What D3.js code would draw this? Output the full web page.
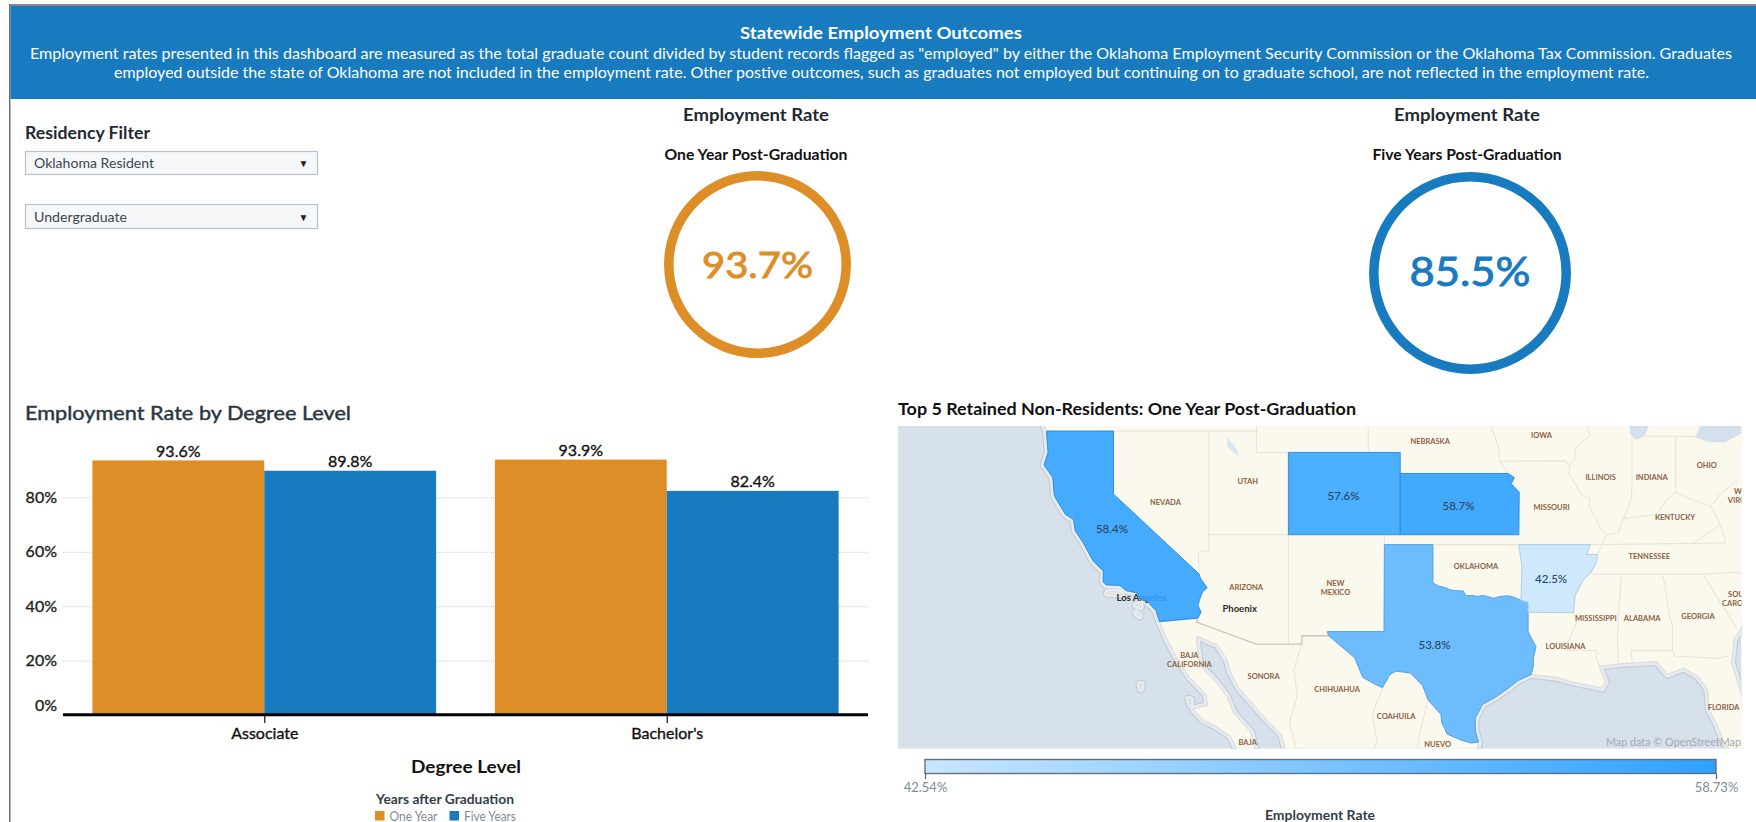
<!DOCTYPE html>
<html>
<head>
<meta charset="utf-8">
<script src="https://cdn.jsdelivr.net/npm/d3@7"></script>
<style>
html,body{margin:0;padding:0;background:#fff;overflow:hidden}
svg{display:block}
text{font-family:Lato,"Open Sans",sans-serif}
</style>
</head>
<body>
<svg id="chart" width="1756" height="822"></svg>
<script>
// ---------- chart values ----------
const headerTitle = "Statewide Employment Outcomes";
const headerLines = [
  'Employment rates presented in this dashboard are measured as the total graduate count divided by student records flagged as "employed" by either the Oklahoma Employment Security Commission or the Oklahoma Tax Commission. Graduates',
  'employed outside the state of Oklahoma are not included in the employment rate. Other postive outcomes, such as graduates not employed but continuing on to graduate school, are not reflected in the employment rate.'
];
const dropdownValues = ["Oklahoma Resident", "Undergraduate"];
const degreeLevels = ["Associate", "Bachelor's"];
const yearSeries = ["One Year", "Five Years"];
const oneYearRates = [93.6, 93.9];
const fiveYearRates = [89.8, 82.4];
const yTicks = [0, 20, 40, 60, 80];
const kpiOneYear = 93.7;
const kpiFiveYears = 85.5;
const legendRange = [42.54, 58.73];

// ---------- retained-state rates and geography (lon, lat) ----------
const stateRates = [58.4, 57.6, 58.7, 53.8, 42.5];
const stateLabelAt = [[-120.1,37.3],[-105.6,38.95],[-98.4,38.45],[-99.9,31.3],[-92.6,34.8]];
const california = [[-124.2,42],[-120,42],[-120,39],[-114.63,35],[-114.57,34.8],[-114.14,34.3],[-114.43,34.08],[-114.52,33.9],[-114.72,33.4],[-114.52,33.03],[-114.72,32.72],[-117.12,32.53],[-117.25,32.85],[-117.33,33.1],[-117.9,33.6],[-118.4,33.74],[-118.5,34.03],[-119.2,34.15],[-119.6,34.42],[-120.47,34.45],[-120.65,34.6],[-120.63,35.15],[-121.3,35.7],[-121.9,36.6],[-122.4,37.2],[-122.5,37.75],[-123,38],[-123.7,38.9],[-123.8,39.8],[-124.35,40.4],[-124.1,41],[-124.2,42]];
const colorado = [[-109.05,41],[-102.05,41],[-102.05,37],[-109.05,37]];
const kansas = [[-102.05,40],[-95.3,40],[-94.9,39.8],[-95.1,39.5],[-94.6,39.1],[-94.62,37],[-102.05,37]];
const texas = [[-103.04,36.5],[-100,36.5],[-100,34.56],[-99.7,34.4],[-99.2,34.3],[-98.95,34.2],[-98.6,34.15],[-98.1,34.13],[-97.95,33.88],[-97.6,33.9],[-97.2,33.85],[-96.9,33.9],[-96.6,33.85],[-96.2,33.75],[-95.8,33.85],[-95.3,33.88],[-94.9,33.8],[-94.48,33.64],[-94.04,33.55],[-94.04,33.02],[-94.04,31.99],[-93.8,31.6],[-93.55,31.2],[-93.7,30.6],[-93.72,30.1],[-93.85,29.7],[-94.7,29.35],[-95.2,29],[-96,28.5],[-96.9,28.05],[-97.35,27.3],[-97.35,26.6],[-97.15,25.96],[-97.6,25.9],[-98.2,26.05],[-99.1,26.4],[-99.45,27.05],[-99.5,27.5],[-100.3,28.3],[-100.65,29.1],[-101.4,29.77],[-102.3,29.88],[-102.7,29.7],[-103.15,28.98],[-103.6,29.15],[-104.4,29.55],[-104.9,30.6],[-106.53,31.78],[-106.62,32],[-103.06,32]];
const arkansas = [[-94.62,36.5],[-90.15,36.5],[-90.37,36],[-89.7,36],[-89.75,35.6],[-90.1,35.1],[-90.6,34.7],[-91.1,33.9],[-91.2,33],[-94.04,33.02],[-94.04,33.55],[-94.48,33.64],[-94.43,35.4]];
const landRing = [[-124.6,43],[-124.4,42.4],[-124.2,42],[-124.1,41],[-124.35,40.4],[-123.8,39.8],[-123.7,38.9],[-123,38],[-122.5,37.75],[-122.4,37.2],[-121.9,36.6],[-121.3,35.7],[-120.63,35.15],[-120.65,34.6],[-120.47,34.45],[-119.6,34.42],[-119.2,34.15],[-118.5,34.03],[-118.4,33.74],[-117.9,33.6],[-117.33,33.1],[-117.25,32.85],[-117.12,32.53],[-116.6,31.5],[-115.9,30.4],[-115.2,29.5],[-114.2,28.6],[-114.1,28],[-115,27.8],[-114.4,27.2],[-113.5,26.8],[-112.7,26.3],[-112.2,25.4],[-111.1,25.4],[-111.4,26.5],[-112.5,27.6],[-112.9,28.5],[-113.6,29.3],[-114.6,30.2],[-114.8,31.5],[-114.75,31.75],[-113.5,31.3],[-112.9,30.5],[-112.7,29.9],[-112.2,29],[-111.2,28],[-110.5,27.3],[-109.5,26.4],[-109.2,25.4],[-97.25,25.4],[-97.15,25.96],[-97.35,26.6],[-97.35,27.3],[-96.9,28.05],[-96,28.5],[-95.2,29],[-94.7,29.35],[-93.85,29.7],[-92.3,29.55],[-91.3,29.3],[-90.2,29.1],[-89.4,28.95],[-89.2,29.3],[-89.6,30.15],[-88,30.3],[-87,30.35],[-86,30.4],[-85.3,29.7],[-84.3,30.05],[-83.4,29.6],[-82.8,28.9],[-82.7,27.8],[-82.2,26.9],[-81.8,26],[-81.2,25.2],[-80.3,25.2],[-80,26.8],[-80.6,28.4],[-81.3,30.3],[-81.15,31.6],[-80.6,32.3],[-80,32.7],[-79,33],[-79,43]];
const islandRings = [
  [[-120.4,34],[-119.5,33.95],[-119.6,34.07],[-120.3,34.08]],
  [[-118.6,33.4],[-118.3,33.3],[-118.35,33.45]],
  [[-118.6,33],[-118.35,32.82],[-118.4,32.85]],
  [[-118.35,29.15],[-118.25,29.15],[-118.3,28.9]],
  [[-115.3,28.35],[-115.15,28.3],[-115.2,28.05]]
];
const greatLakeRings = [
  [[-87.8,43],[-87.6,41.85],[-87.3,41.62],[-86.8,41.75],[-86.4,42.4],[-86.2,43]],
  [[-83.55,41.72],[-82.7,41.5],[-81.7,41.5],[-80.5,42],[-79,42.7],[-83.2,42.7],[-83.3,42.1]],
  [[-122.45,38.1],[-122.1,38.05],[-122.2,37.6],[-122.4,37.85]]
];
const smallLakeRings = [
  [[-112.9,41.7],[-112.4,41.3],[-112.1,40.8],[-112.5,41],[-112.9,41.3]]
];
const stateBorderLines = [
  [[-124.2,42],[-111.05,42]],
  [[-111.05,43],[-111.05,41],[-109.05,41],[-102.05,41]],
  [[-114.04,42],[-114.04,36.2],[-114.7,36.1],[-114.63,35]],
  [[-114.04,37],[-94.62,37]],
  [[-109.05,41],[-109.05,31.33]],
  [[-103.04,37],[-103.04,36.5]],
  [[-104.05,43],[-104.05,41]],
  [[-102.05,41],[-102.05,40],[-95.3,40]],
  [[-96.5,42.5],[-96.1,41.7],[-95.9,41.2],[-95.8,40.6],[-95.3,40]],
  [[-95.77,40.58],[-91.73,40.6],[-91.42,40.38]],
  [[-90.65,43],[-90.15,41.8],[-91.1,41.2],[-91.1,40.7],[-91.42,40.38],[-91.5,40],[-90.7,39],[-90.15,38.8],[-90.2,38.4],[-89.5,37.3],[-89.15,37],[-89.4,36.5],[-89.7,36],[-90.1,35.1],[-90.6,34.7],[-91.1,33.9],[-91.2,33],[-91,32.5],[-91.5,31.5],[-91.6,31],[-89.73,31],[-89.8,30.6],[-89.55,30.2]],
  [[-90.1,35],[-83.1,35]],
  [[-94.62,36.5],[-100,36.5]],
  [[-90.15,36.5],[-89.4,36.5],[-81.68,36.59]],
  [[-88.2,35],[-88.45,31.9],[-88.4,30.3]],
  [[-85.6,35],[-85.2,32.9],[-85,32.3],[-85,31],[-84.86,30.7],[-82.2,30.57],[-81.5,30.7]],
  [[-87.6,31],[-85,31]],
  [[-87.6,31],[-87.5,30.3]],
  [[-87.53,41.7],[-87.53,39.3],[-87.6,38.7],[-88.05,37.8]],
  [[-89.15,37],[-88.4,37.1],[-88.05,37.8],[-87,37.9],[-86,38],[-85.4,38.7],[-84.8,39.1],[-84,38.8],[-82.6,38.4],[-82,39],[-80.9,39.7]],
  [[-84.8,39.1],[-84.8,41.7]],
  [[-87,41.76],[-84.8,41.76],[-83.5,41.73]],
  [[-82.6,38.4],[-82,37.5],[-83.68,36.6]],
  [[-82,37.5],[-81.68,36.59]],
  [[-83.1,35],[-81,32.2]],
  [[-83.1,35],[-81,35.1],[-79.7,34.8]],
  [[-108.2,31.33],[-108.7,30],[-108.5,28.5],[-109,27],[-108.5,25.4]],
  [[-103.15,28.98],[-103.8,27.5],[-103.5,26],[-103.8,25.4]],
  [[-100.3,28.3],[-100.8,26.5],[-101,25.4]]
];
const nationalBorderLines = [
  [[-117.12,32.53],[-114.72,32.72],[-114.8,32.5],[-111.07,31.33],[-108.2,31.33],[-108.2,31.78],[-106.53,31.78]]
];
const placeLabels = [
  ["IOWA",-93.2,41.8],["NEBRASKA",-100.17,41.5],["OHIO",-82.85,40.4],["ILLINOIS",-89.5,39.8],["INDIANA",-86.3,39.8],
  ["UTAH",-111.6,39.6],["NEVADA",-116.75,38.6],["MISSOURI",-92.57,38.35],["KENTUCKY",-84.84,37.85],["TENNESSEE",-86.45,35.9],
  ["OKLAHOMA",-97.3,35.4],["ARIZONA",-111.7,34.3],["NEW|MEXICO",-106.1,34.3],["MISSISSIPPI",-89.8,32.7],["ALABAMA",-86.9,32.7],
  ["GEORGIA",-83.4,32.8],["LOUISIANA",-91.7,31.2],["BAJA|CALIFORNIA",-115.25,30.5],["SONORA",-110.6,29.6],["CHIHUAHUA",-106,28.9],
  ["COAHUILA",-102.3,27.4],["FLORIDA",-81.8,27.9],["BAJA",-111.6,25.95],["NUEVO",-99.7,25.8],["SOUTH|CAROLINA",-80.7,33.7],["WEST|VIRGINIA",-80.5,38.9]
];
const cityLabels = [["Los Angeles",-118.25,33.8],["Phoenix",-112.1,33.2]];

// ---------- drawing ----------
const ORANGE = "#dd8e26", BLUE = "#187abf", INK = "#1f2933", MUTED = "#7f8b99";
const svg = d3.select("#chart");
const defs = svg.append("defs");

function label(parent, str, x, y, size, opts = {}) {
  const t = parent.append("text").attr("x", x).attr("y", y)
    .attr("dominant-baseline", "central")
    .attr("text-anchor", opts.anchor || "middle")
    .attr("font-size", size)
    .attr("font-weight", opts.weight || 400)
    .attr("fill", opts.fill || INK)
    .text(str);
  if (opts.width) t.attr("textLength", opts.width).attr("lengthAdjust", "spacingAndGlyphs");
  if (opts.thicken) t.attr("stroke", opts.fill || INK).attr("stroke-width", opts.thicken);
  return t;
}

// frame
svg.append("rect").attr("x", 9).attr("y", 4).attr("width", 1747).attr("height", 2).attr("fill", "#8a8a8a");
svg.append("rect").attr("x", 9).attr("y", 4).attr("width", 1.5).attr("height", 818).attr("fill", "#6f6f6f");

// header banner
svg.append("rect").attr("x", 10.5).attr("y", 6).attr("width", 1745.5).attr("height", 93).attr("fill", BLUE);
label(svg, headerTitle, 881, 32, 17, { weight: 700, fill: "#fff", width: 282 });
label(svg, headerLines[0], 881, 53, 15, { fill: "#fff", width: 1702 });
label(svg, headerLines[1], 881.5, 72, 15, { fill: "#fff", width: 1535 });

// filters
label(svg, "Residency Filter", 25, 133, 16.5, { anchor: "start", weight: 700, width: 125 });
[[151, 174], [204, 228]].forEach((yy, i) => {
  svg.append("rect").attr("x", 25.5).attr("y", yy[0] + .5).attr("width", 292).attr("height", yy[1] - yy[0])
    .attr("fill", "#f6f7f9").attr("stroke", "#b9c0cb").attr("stroke-width", 1.2);
  label(svg, dropdownValues[i], 34, (yy[0] + yy[1]) / 2 + .5, 13.5, { anchor: "start", fill: "#3c4650", width: i ? 93 : 120 });
  label(svg, "\u25BC", 303.5, (yy[0] + yy[1]) / 2 + .5, 10, { fill: "#222" });
});

// KPI rings
const pct1 = d3.format(".1f");
function kpi(cx, cTitle, cy, r, value, sub, color, fs, w, ty, subW) {
  label(svg, "Employment Rate", cTitle, 115, 16.5, { weight: 700, width: 146 });
  label(svg, sub, cTitle, 154, 14.5, { weight: 700, fill: "#111", width: subW });
  svg.append("circle").attr("cx", cx).attr("cy", cy).attr("r", r).attr("fill", "none").attr("stroke", color).attr("stroke-width", 9.5);
  label(svg, pct1(value) + "%", cx, ty, fs, { fill: color, width: w, thicken: .9 });
}
kpi(757.5, 756, 264.5, 88.7, kpiOneYear, "One Year Post-Graduation", ORANGE, 37, 111, 263, 183);
kpi(1470, 1467, 273, 96.2, kpiFiveYears, "Five Years Post-Graduation", BLUE, 40, 121, 271, 189);

// ---------- bar chart ----------
const x0 = d3.scaleBand().domain(degreeLevels).range([63, 868]).paddingInner(0.146).paddingOuter(0.073);
const x1 = d3.scaleBand().domain(yearSeries).range([0, x0.bandwidth()]);
const y = d3.scaleLinear().domain([0, 100]).range([715, 443]);
const seriesValues = { "One Year": oneYearRates, "Five Years": fiveYearRates };
const seriesColor = d3.scaleOrdinal().domain(yearSeries).range([ORANGE, BLUE]);

label(svg, "Employment Rate by Degree Level", 25, 412, 20, { anchor: "start", weight: 400, fill: "#2b3640", width: 326, thicken: .45 });

svg.append("g").selectAll("line").data(yTicks.filter(d => d > 0)).join("line")
  .attr("x1", 63).attr("x2", 868).attr("y1", d => y(d) + .5).attr("y2", d => y(d) + .5)
  .attr("stroke", "#c9c9c9").attr("stroke-width", 1).attr("stroke-dasharray", "1 1");

const groups = svg.append("g").selectAll("g").data(degreeLevels).join("g")
  .attr("transform", d => `translate(${x0(d)},0)`);
yearSeries.forEach(s => {
  groups.append("rect")
    .attr("x", x1(s)).attr("width", x1.bandwidth())
    .attr("y", (d, i) => y(seriesValues[s][i]))
    .attr("height", (d, i) => y(0) - y(seriesValues[s][i]))
    .attr("fill", seriesColor(s));
  groups.append("text")
    .attr("x", x1(s) + x1.bandwidth() / 2)
    .attr("y", (d, i) => y(seriesValues[s][i]) - 10)
    .attr("text-anchor", "middle").attr("dominant-baseline", "central")
    .attr("font-size", 16).attr("font-weight", 400).attr("fill", "#111")
    .attr("stroke", "#111").attr("stroke-width", .35)
    .text((d, i) => pct1(seriesValues[s][i]) + "%");
});

const yAxis = svg.append("g").attr("transform", "translate(63,0)")
  .call(d3.axisLeft(y).tickValues(yTicks).tickSize(0).tickPadding(6).tickFormat(d => d + "%"));
yAxis.select(".domain").remove();
yAxis.selectAll("text").attr("font-size", 16).attr("fill", "#222").attr("stroke", "#222").attr("stroke-width", .35).style("font-family", "Lato");
yAxis.selectAll(".tick").filter(d => d === 0).select("text").attr("dy", "-0.3em");

const xAxis = svg.append("g").attr("transform", "translate(0,715)")
  .call(d3.axisBottom(d3.scalePoint().domain(degreeLevels).range([x0("Associate") + x0.bandwidth() / 2, x0("Bachelor's") + x0.bandwidth() / 2]))
    .tickSize(8).tickPadding(5));
xAxis.select(".domain").remove();
xAxis.selectAll("line").attr("stroke", "#111").attr("stroke-width", 1.2);
xAxis.selectAll("text").attr("font-size", 16).attr("fill", "#111").attr("stroke", "#111").attr("stroke-width", .35).style("font-family", "Lato");
svg.append("line").attr("x1", 63).attr("x2", 868).attr("y1", 714.7).attr("y2", 714.7).attr("stroke", "#000").attr("stroke-width", 3);

label(svg, "Degree Level", 466, 767, 16.5, { weight: 700, fill: "#111", width: 110 });
label(svg, "Years after Graduation", 445, 799, 13, { weight: 700, fill: "#333d47", width: 138 });
const legendX = [375, 449.5];
yearSeries.forEach((s, i) => {
  svg.append("rect").attr("x", legendX[i]).attr("y", 811).attr("width", 9.5).attr("height", 9.5).attr("fill", seriesColor(s));
  label(svg, s, legendX[i] + 14.5, 815.5, 13, { anchor: "start", fill: MUTED, width: i ? 52 : 48 });
});

// ---------- map ----------
label(svg, "Top 5 Retained Non-Residents: One Year Post-Graduation", 898, 408, 17, { anchor: "start", weight: 700, fill: "#111", width: 458 });

const mapBox = { x: 898, y: 426, w: 843.5, h: 322.7 };
defs.append("clipPath").attr("id", "mapclip").append("rect")
  .attr("x", mapBox.x).attr("y", mapBox.y).attr("width", mapBox.w).attr("height", mapBox.h);
const projection = d3.geoMercator().scale(915).translate([3029.9, 1171.5]).precision(0);
const ringPath = ring => d3.line()(ring.map(p => projection(p))) + "Z";
const linePath = pts => d3.line()(pts.map(p => projection(p)));
const color = d3.scaleLinear().domain(legendRange).range(["#c9e6ff", "#2ea1ff"]);

const map = svg.append("g").attr("clip-path", "url(#mapclip)");
map.append("rect").attr("x", mapBox.x).attr("y", mapBox.y).attr("width", mapBox.w).attr("height", mapBox.h).attr("fill", "#d7e1ec");
const coastRings = [landRing, ...islandRings];
map.selectAll(".halo").data(coastRings).join("path").attr("d", ringPath)
  .attr("fill", "none").attr("stroke", "#c5ced8").attr("stroke-width", 9).attr("stroke-linejoin", "round");
map.selectAll(".halo2").data(coastRings).join("path").attr("d", ringPath)
  .attr("fill", "none").attr("stroke", "#e6ebef").attr("stroke-width", 6.5).attr("stroke-linejoin", "round");
map.selectAll(".land").data(coastRings).join("path").attr("d", ringPath)
  .attr("fill", "#fbf9ee").attr("stroke", "#d2d4d2").attr("stroke-width", .8);
map.selectAll(".lake").data(greatLakeRings).join("path").attr("d", ringPath)
  .attr("fill", "#d3e1ee").attr("stroke", "#c9d6e2").attr("stroke-width", .6);
map.selectAll(".smalllake").data(smallLakeRings).join("path").attr("d", ringPath).attr("fill", "#dbe6ef");
map.selectAll(".sb").data(stateBorderLines).join("path").attr("d", linePath)
  .attr("fill", "none").attr("stroke", "#e9e6d9").attr("stroke-width", 1.1);
map.selectAll(".nb").data(nationalBorderLines).join("path").attr("d", linePath)
  .attr("fill", "none").attr("stroke", "#c9c7bd").attr("stroke-width", 1.3);

placeLabels.forEach(([name, lon, lat]) => {
  const [px, py] = projection([lon, lat]);
  const parts = name.split("|");
  parts.forEach((part, i) => {
    map.append("text").attr("x", px).attr("y", py + (i - (parts.length - 1) / 2) * 9)
      .attr("text-anchor", "middle").attr("dominant-baseline", "central")
      .attr("font-size", 7.5).attr("font-weight", 700).attr("fill", "#8c5f44").text(part);
  });
});
cityLabels.forEach(([name, lon, lat]) => {
  const [px, py] = projection([lon, lat]);
  map.append("text").attr("x", px).attr("y", py).attr("text-anchor", "middle").attr("dominant-baseline", "central")
    .attr("font-size", 9.5).attr("font-weight", 700).attr("fill", "#2b2b2b").text(name);
});

const stateRings = [california, colorado, kansas, texas, arkansas];
map.selectAll(".state").data(stateRings).join("path").attr("d", ringPath)
  .attr("fill", (d, i) => color(stateRates[i])).attr("fill-opacity", .9)
  .attr("stroke", (d, i) => d3.color(color(stateRates[i])).darker(.35)).attr("stroke-width", 1);
stateRates.forEach((v, i) => {
  const [px, py] = projection(stateLabelAt[i]);
  map.append("text").attr("x", px).attr("y", py).attr("text-anchor", "middle").attr("dominant-baseline", "central")
    .attr("font-size", 11.5).attr("font-weight", 500).attr("fill", "#27465f").text(pct1(v) + "%");
});
map.append("text").attr("x", 1741).attr("y", 741.7).attr("text-anchor", "end").attr("dominant-baseline", "central")
  .attr("font-size", 11).attr("fill", "#a3a8ad").attr("textLength", 135).attr("lengthAdjust", "spacingAndGlyphs").text("Map data \u00A9 OpenStreetMap");

// color legend
const lg = defs.append("linearGradient").attr("id", "ramp");
lg.append("stop").attr("offset", "0%").attr("stop-color", color(legendRange[0]));
lg.append("stop").attr("offset", "100%").attr("stop-color", color(legendRange[1]));
const legendScale = d3.scaleLinear().domain(legendRange).range([925, 1716]);
svg.append("rect").attr("x", 925).attr("y", 759.5).attr("width", 791).attr("height", 14).attr("fill", "url(#ramp)")
  .attr("stroke", "#66707a").attr("stroke-width", 1.4);
const lgAxis = svg.append("g").attr("transform", "translate(0,773.5)")
  .call(d3.axisBottom(legendScale).tickValues(legendRange).tickSize(5.5).tickPadding(4).tickFormat(d => d3.format(".2f")(d) + "%"));
lgAxis.select(".domain").remove();
lgAxis.selectAll("line").attr("stroke", "#55606a").attr("stroke-width", 1.2);
lgAxis.selectAll("text").attr("font-size", 13).attr("fill", "#7f8b99").style("font-family", "Lato");
label(svg, "Employment Rate", 1320, 815, 13.5, { weight: 700, fill: "#333d47", width: 110 });
</script>
</body>
</html>
